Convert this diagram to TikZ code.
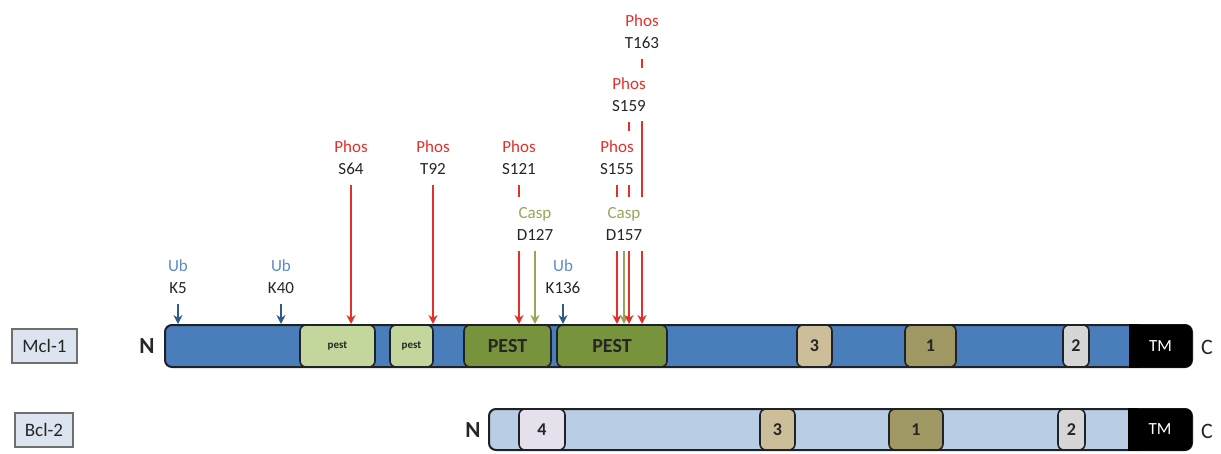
\documentclass[tikz,border=0pt]{standalone}
\usepackage{fontspec}
\setmainfont{Carlito}
\usetikzlibrary{arrows.meta}
\definecolor{dark}{HTML}{1E2226}
\definecolor{mblue}{HTML}{4A7EBB}
\definecolor{lblue}{HTML}{B9CDE5}
\definecolor{lpest}{HTML}{C3D69B}
\definecolor{dpest}{HTML}{77933C}
\definecolor{tan}{HTML}{CBBE98}
\definecolor{olive}{HTML}{A09862}
\definecolor{lgray}{HTML}{D6D6D6}
\definecolor{lav}{HTML}{E6E0EC}
\definecolor{ared}{HTML}{E3302B}
\definecolor{casp}{HTML}{9AA55A}
\definecolor{ubtxt}{HTML}{5B8BC4}
\definecolor{ubarr}{HTML}{2F5B8A}
\definecolor{boxfill}{HTML}{DCE4F0}
\definecolor{boxdraw}{HTML}{6F6F6F}
\definecolor{txt}{HTML}{262626}
\pgfdeclarelayer{arrowlayer}
\pgfdeclarelayer{labellayer}
\pgfsetlayers{main,arrowlayer,labellayer}
\begin{document}
\begin{tikzpicture}[x=1pt,y=-1pt,
  bar/.style={draw=dark, line width=2pt, rounded corners=7pt, inner sep=0pt},
  dom/.style={draw=dark, line width=1.6pt, rounded corners=6pt, inner sep=0pt, text=txt, font=\bfseries\fontsize{18}{18}\selectfont},
  tm/.style={fill=black, rounded corners=7pt, inner sep=0pt},
  lab/.style={fill=white, align=center, inner xsep=2pt, inner ysep=10pt, text=txt, font=\fontsize{17}{22}\selectfont},
  phos/.style={draw=ared, line width=1.8pt, -{Stealth[length=9pt,width=9pt]}},
  casparr/.style={draw=casp, line width=1.8pt, -{Stealth[length=9pt,width=9pt]}},
  ubarrow/.style={draw=ubarr, line width=1.6pt, -{Stealth[length=9pt,width=9pt]}},
  namebox/.style={draw=boxdraw, fill=boxfill, line width=1.5pt, inner sep=0pt, minimum height=34pt, text=txt, font=\fontsize{19}{19}\selectfont},
  term/.style={inner sep=0pt, text=txt, font=\fontsize{22}{22}\selectfont}
]
\useasboundingbox (0,0) rectangle (1221,453);

% ---------- name boxes ----------
\node[namebox, minimum width=65pt] (mclname) at (44.5,346) {Mcl-1};
\node[namebox, minimum width=58pt] (bclname) at (44,430) {Bcl-2};

% ---------- Mcl-1 bar ----------
\node[bar, fill=mblue, minimum width=1027pt, minimum height=42pt] (mcl) at (678.5,346) {};
\node[tm, minimum width=63pt, minimum height=43pt] (tmA) at (1160.5,346) {};
\fill[black] (tmA.north west) rectangle ([xshift=10pt]tmA.south west);
\node[text=white, font=\fontsize{17}{17}\selectfont] at (tmA) {TM};
\node[dom, fill=lpest, minimum width=75pt, minimum height=42pt, font=\bfseries\fontsize{11}{11}\selectfont] (p1) at (337.5,346) {pest};
\node[dom, fill=lpest, minimum width=43pt, minimum height=42pt, font=\bfseries\fontsize{11}{11}\selectfont] (p2) at (411.5,346) {pest};
\node[dom, fill=dpest, minimum width=87pt, minimum height=42pt, font=\bfseries\fontsize{20}{20}\selectfont] (P1) at (507.5,346) {PEST};
\node[dom, fill=dpest, minimum width=110pt, minimum height=42pt, font=\bfseries\fontsize{20}{20}\selectfont] (P2) at (612,346) {PEST};
\node[dom, fill=tan, minimum width=35pt, minimum height=42pt] (m3) at (814.5,346) {3};
\node[dom, fill=olive, minimum width=51pt, minimum height=42pt] (m1) at (930.5,346) {1};
\node[dom, fill=lgray, minimum width=26pt, minimum height=42pt] (m2) at (1076,346) {2};
\node[term, font=\bfseries\fontsize{23}{23}\selectfont] (NA) at (147,346) {N};
\node[term] (CA) at (1207,347) {C};

% ---------- Bcl-2 bar ----------
\node[bar, fill=lblue, minimum width=703pt, minimum height=41pt] (bcl) at (840.5,429.5) {};
\node[tm, minimum width=64pt, minimum height=42pt] (tmB) at (1160,429.5) {};
\fill[black] (tmB.north west) rectangle ([xshift=10pt]tmB.south west);
\node[text=white, font=\fontsize{17}{17}\selectfont] at (tmB) {TM};
\node[dom, fill=lav, minimum width=46pt, minimum height=41pt] (b4) at (542,429.5) {4};
\node[dom, fill=tan, minimum width=35pt, minimum height=41pt] (b3) at (777.5,429.5) {3};
\node[dom, fill=olive, minimum width=54pt, minimum height=41pt] (b1) at (916,429.5) {1};
\node[dom, fill=lgray, minimum width=27pt, minimum height=41pt] (b2) at (1071.5,429.5) {2};
\node[term, font=\bfseries\fontsize{23}{23}\selectfont] (NB) at (473,430) {N};
\node[term] (CB) at (1207,431) {C};

% ---------- labels ----------
\begin{pgfonlayer}{labellayer}
\node[lab] (K5) at (178,276.5) {\textcolor{ubtxt}{Ub}\\K5};
\node[lab] (K40) at (281,276.5) {\textcolor{ubtxt}{Ub}\\K40};
\node[lab] (K136) at (563,276.5) {\textcolor{ubtxt}{Ub}\\K136};
\node[lab] (S64) at (351,158) {\textcolor{ared}{Phos}\\S64};
\node[lab] (T92) at (433,158) {\textcolor{ared}{Phos}\\T92};
\node[lab] (S121) at (519,158) {\textcolor{ared}{Phos}\\S121};
\node[lab] (D127) at (535,224) {\textcolor{casp}{Casp}\\D127};
\node[lab] (S155) at (617,158) {\textcolor{ared}{Phos}\\S155};
\node[lab] (D157) at (624,224) {\textcolor{casp}{Casp}\\D157};
\node[lab] (S159) at (629,94.5) {\textcolor{ared}{Phos}\\S159};
\node[lab] (T163) at (642,31.5) {\textcolor{ared}{Phos}\\T163};
\end{pgfonlayer}

% ---------- arrows ----------
\begin{pgfonlayer}{arrowlayer}
\draw[ubarrow] (K5) -- (K5 |- mcl.north);
\draw[ubarrow] (K40) -- (K40 |- mcl.north);
\draw[ubarrow] (K136) -- (K136 |- mcl.north);
\draw[phos] (S64) -- (S64 |- mcl.north);
\draw[phos] (T92) -- (T92 |- mcl.north);
\draw[phos] (S121) -- (S121 |- mcl.north);
\draw[casparr] (D127) -- (D127 |- mcl.north);
\draw[phos] (S155) -- (S155 |- mcl.north);
\draw[casparr] (D157) -- (D157 |- mcl.north);
\draw[phos] (S159) -- (S159 |- mcl.north);
\draw[phos] (T163) -- (T163 |- mcl.north);
\end{pgfonlayer}
\end{tikzpicture}
\end{document}
